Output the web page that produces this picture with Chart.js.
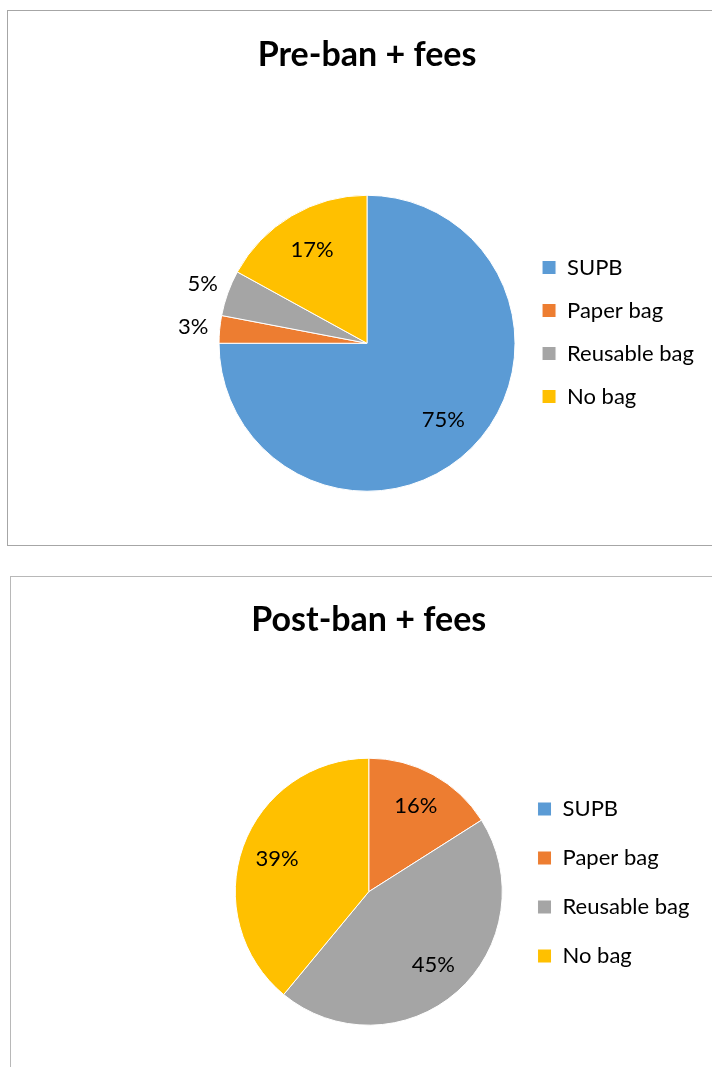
<!DOCTYPE html>
<html>
<head>
<meta charset="utf-8">
<script src="https://cdn.jsdelivr.net/npm/chart.js@4.4.1/dist/chart.umd.min.js"></script>
<style>
    body { margin: 0; width: 712px; height: 1067px; overflow: hidden; background: #fff; position: relative; }
    .box { position: absolute; overflow: hidden; border: 1px solid #a6a6a6; background: #fff; }
    #box1 { left: 7px; top: 10px; width: 760px; height: 534px; }
    #box2 { left: 10px; top: 576px; width: 760px; height: 500px; border-color: #b8b8b8; }
    canvas { display: block; }
</style>
</head>
<body>
<div id="box1" class="box"><canvas id="preChart" width="760" height="534"></canvas></div>
<div id="box2" class="box"><canvas id="postChart" width="760" height="490"></canvas></div>
<script>
        const categories = ['SUPB', 'Paper bag', 'Reusable bag', 'No bag'];
        const preBanValues = [75, 3, 5, 17];
        const postBanValues = [0, 16, 45, 39];
        const sliceColors = ['#5B9BD5', '#ED7D31', '#A5A5A5', '#FFC000'];

        // percentage labels, inside the slice or just outside for thin slices
        const pctLabels = {
            id: 'pctLabels',
            afterDatasetsDraw(chart, args, opts) {
                const ctx = chart.ctx;
                const values = chart.data.datasets[0].data;
                const total = values.reduce((a, b) => a + b, 0);
                ctx.save();
                ctx.font = '22px Lato';
                ctx.fillStyle = '#000';
                ctx.textAlign = 'center';
                ctx.textBaseline = 'middle';
                chart.getDatasetMeta(0).data.forEach((arc, i) => {
                    if (!values[i]) return;
                    const p = arc.getProps(['x', 'y', 'startAngle', 'endAngle', 'outerRadius'], true);
                    const mid = (p.startAngle + p.endAngle) / 2;
                    const share = values[i] / total;
                    const f = share < 0.08 ? opts.outside : opts.inside;
                    ctx.fillText(Math.round(share * 100) + '%',
                        p.x + Math.cos(mid) * p.outerRadius * f,
                        p.y + Math.sin(mid) * p.outerRadius * f);
                });
                ctx.restore();
            }
        };

        function createPie(canvasId, title, values, cfg) {
            return new Chart(document.getElementById(canvasId), {
                type: 'pie',
                data: {
                    labels: categories,
                    datasets: [{
                        data: values,
                        backgroundColor: sliceColors,
                        borderColor: '#fff',
                        borderWidth: 1,
                        radius: cfg.radius,
                        clip: false
                    }]
                },
                options: {
                    responsive: false,
                    animation: false,
                    events: [],
                    layout: { padding: cfg.padding },
                    plugins: {
                        title: {
                            display: true,
                            text: title,
                            fullSize: false,
                            color: '#000',
                            font: { family: 'Lato', size: 34, weight: 'bold' },
                            padding: cfg.titlePadding
                        },
                        legend: {
                            position: 'right',
                            align: 'start',
                            fullSize: false,
                            labels: {
                                boxWidth: 14,
                                boxHeight: 14,
                                padding: cfg.legendGap,
                                color: '#000',
                                font: { family: 'Lato', size: 22 }
                            }
                        },
                        tooltip: { enabled: false },
                        pctLabels: { inside: 0.73, outside: 1.18 }
                    }
                },
                plugins: [pctLabels]
            });
        }

        createPie('preChart', 'Pre-ban + fees', preBanValues, {
            radius: 148,
            padding: { left: 205, right: 64.1, top: 0, bottom: 94 },
            titlePadding: { top: 23.6, bottom: 160.1 },
            legendGap: 21
        });

        createPie('postChart', 'Post-ban + fees', postBanValues, {
            radius: 133.5,
            padding: { left: 216, right: 71.6, top: 0, bottom: 54.6 },
            titlePadding: { top: 22.6, bottom: 130.6 },
            legendGap: 27
        });
</script>
</body>
</html>
